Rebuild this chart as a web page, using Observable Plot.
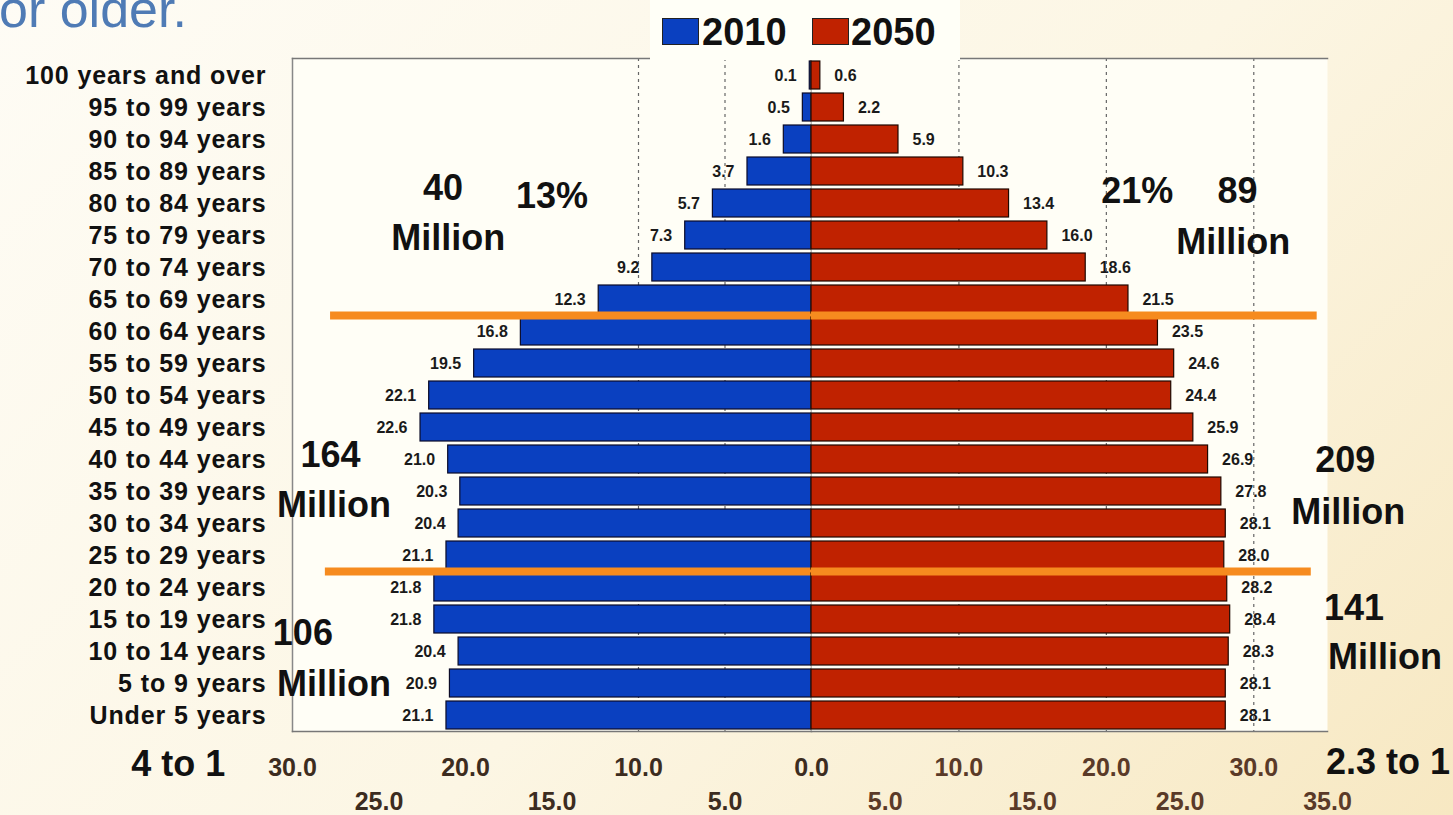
<!DOCTYPE html>
<html>
<head>
<meta charset="utf-8">
<script src="https://cdn.jsdelivr.net/npm/d3@7"></script>
<script src="https://cdn.jsdelivr.net/npm/@observablehq/plot@0.6"></script>
<style>
  html, body { margin: 0; padding: 0; }
  body { width: 1453px; height: 815px; overflow: hidden;
    background: linear-gradient(135deg, #fefcf5 0%, #fcf6e4 55%, #f7e8c2 100%);
    font-family: "Liberation Sans", Arial, sans-serif; }
  #wrap { position: relative; width: 1453px; height: 815px; }
  #title { position: absolute; left: -1px; top: -21px; font-size: 52px; color: #4f7bb5; white-space: nowrap; line-height: 60px; }
  #legend { position: absolute; left: 650px; top: 0; width: 310px; height: 60px; background: #fffff7; }
  .sw { position: absolute; top: 18px; width: 37px; height: 27px; box-sizing: border-box; border: 1px solid #222; }
  .lt { position: absolute; top: 10px; font-size: 38px; font-weight: bold; color: #111; line-height: 44px; }
  #left { position: absolute; left: 0; top: 0; }
  #right { position: absolute; left: 811px; top: 0; }
  svg { overflow: visible; }
  g[aria-label="y-axis tick label"] { letter-spacing: 0.9px; }
  g[aria-label="note"] { letter-spacing: 1.2px; }
</style>
</head>
<body>
<div id="wrap">
  <div id="left"></div>
  <div id="right"></div>
  <div id="title">or older.</div>
  <div id="legend">
    <div class="sw" style="left:12px;background:#0a40c0"></div>
    <div class="lt" style="left:52px">2010</div>
    <div class="sw" style="left:162px;background:#c02200"></div>
    <div class="lt" style="left:201px">2050</div>
  </div>
</div>
<script>
// ---- data ----
const ages = ["100 years and over","95 to 99 years","90 to 94 years","85 to 89 years","80 to 84 years",
  "75 to 79 years","70 to 74 years","65 to 69 years","60 to 64 years","55 to 59 years","50 to 54 years",
  "45 to 49 years","40 to 44 years","35 to 39 years","30 to 34 years","25 to 29 years","20 to 24 years",
  "15 to 19 years","10 to 14 years","5 to 9 years","Under 5 years"];
const pop2010 = [0.1,0.5,1.6,3.7,5.7,7.3,9.2,12.3,16.8,19.5,22.1,22.6,21.0,20.3,20.4,21.1,21.8,21.8,20.4,20.9,21.1];
const pop2050 = [0.6,2.2,5.9,10.3,13.4,16.0,18.6,21.5,23.5,24.6,24.4,25.9,26.9,27.8,28.1,28.0,28.2,28.4,28.3,28.1,28.1];
const leftTicksRow1 = [30,20,10,0];
const leftTicksRow2 = [25,15,5];
const rightTicksRow1 = [10,20,30];
const rightTicksRow2 = [5,15,25,35];
const leftGrid = [5,10];
const rightGrid = [10,20,30];
// orange divider lines: row above which they sit, and their extent (in each side's units)
const dividerRows = ["65 to 69 years","25 to 29 years"];
const dividerLeftExtent = [27.8, 28.1];
const dividerRightExtent = [34.3, 33.9];
// annotations (x in each side's units, anchored to an age row)
const leftNotes = [
  {text:"40", x:21.3, age:"80 to 84 years", dy:-15},
  {text:"Million", x:21.0, age:"75 to 79 years", dy:3},
  {text:"13%", x:15.0, age:"80 to 84 years", dy:-7},
  {text:"164", x:27.8, age:"40 to 44 years", dy:-4},
  {text:"Million", x:27.6, age:"35 to 39 years", dy:14},
  {text:"106", x:29.4, age:"15 to 19 years", dy:14},
  {text:"Million", x:27.6, age:"5 to 9 years", dy:1},
  {text:"4 to 1", x:36.6, age:"Under 5 years", dy:49}
];
const rightNotes = [
  {text:"21%", x:22.1, age:"80 to 84 years", dy:-12},
  {text:"89", x:28.9, age:"80 to 84 years", dy:-12},
  {text:"Million", x:28.6, age:"75 to 79 years", dy:7},
  {text:"209", x:36.2, age:"40 to 44 years", dy:1},
  {text:"Million", x:36.4, age:"35 to 39 years", dy:21},
  {text:"141", x:36.8, age:"15 to 19 years", dy:-11},
  {text:"Million", x:38.9, age:"10 to 14 years", dy:6},
  {text:"2.3 to 1", x:39.1, age:"Under 5 years", dy:47}
];

const rows = ages.map((a, i) => ({age: a, v2010: pop2010[i], v2050: pop2050[i]}));
const dividers = dividerRows.map((a, i) => ({age: a, left: dividerLeftExtent[i], right: dividerRightExtent[i]}));

const BLUE = "#0a40c0", RED = "#c02200", ORANGE = "#f68b1f";
const FONT = "Liberation Sans, Arial, sans-serif";
const yScale = {domain: ages, paddingInner: 0.14, paddingOuter: 0.07, axis: null};
const common = {height: 815, marginTop: 58, marginBottom: 84,
  style: {background: "transparent", fontFamily: FONT, overflow: "visible"}};
const fmt = d => d.toFixed(1);
const noteMarks = notes => notes.map(n => Plot.text([n], {x: "x", y: "age", text: "text", dy: n.dy,
  fontSize: 36, fontWeight: "bold", fill: "#111", ariaLabel: "note"}));

const left = Plot.plot({
  ...common,
  width: 811, marginLeft: 292, marginRight: 0,
  x: {domain: [0, 30], reverse: true, axis: null},
  y: yScale,
  marks: [
    Plot.frame({fill: "#fffef6", stroke: null}),
    Plot.ruleX(leftGrid, {stroke: "#666", strokeDasharray: "3,4", strokeWidth: 1.2}),
    Plot.barX(rows, {x: "v2010", y: "age", fill: BLUE, stroke: "#0b0b28", strokeWidth: 1.2}),
    Plot.ruleX([0], {stroke: "#777", strokeWidth: 1.5}),
    Plot.text(rows, {x: "v2010", y: "age", text: d => fmt(d.v2010), textAnchor: "end", dx: -13,
      fontSize: 16, fontWeight: "bold", fill: "#1a1a1a"}),
    Plot.ruleY(dividers, {y: "age", x1: "left", x2: 0, dy: 16, stroke: ORANGE, strokeWidth: 8}),
    Plot.frame({anchor: "left", stroke: "#888", strokeWidth: 1.5}),
    Plot.frame({anchor: "top", stroke: "#777", strokeWidth: 1.5}),
    Plot.frame({anchor: "bottom", stroke: "#777", strokeWidth: 1.5}),
    Plot.axisY({anchor: "left", tickSize: 0, tickPadding: 26, fontSize: 25, fontWeight: "bold", fill: "#111", label: null}),
    Plot.axisX({ticks: leftTicksRow1, tickFormat: fmt, anchor: "bottom", tickSize: 0, tickPadding: 27,
      fontSize: 25, fontWeight: "bold", fill: "#3c2c20", label: null}),
    Plot.axisX({ticks: leftTicksRow2, tickFormat: fmt, anchor: "bottom", tickSize: 0, tickPadding: 61,
      fontSize: 25, fontWeight: "bold", fill: "#3c2c20", label: null}),
    ...noteMarks(leftNotes)
  ]
});

const right = Plot.plot({
  ...common,
  width: 642, marginLeft: 0, marginRight: 126,
  x: {domain: [0, 35], axis: null},
  y: yScale,
  marks: [
    Plot.frame({fill: "#fffef6", stroke: null}),
    Plot.ruleX(rightGrid, {stroke: "#666", strokeDasharray: "3,4", strokeWidth: 1.2}),
    Plot.barX(rows, {x: "v2050", y: "age", fill: RED, stroke: "#1e0800", strokeWidth: 1.2}),
    Plot.text(rows, {x: "v2050", y: "age", text: d => fmt(d.v2050), textAnchor: "start", dx: 14,
      fontSize: 16, fontWeight: "bold", fill: "#1a1a1a"}),
    Plot.ruleY(dividers, {y: "age", x1: 0, x2: "right", dy: 16, stroke: ORANGE, strokeWidth: 8}),
    Plot.frame({anchor: "top", stroke: "#777", strokeWidth: 1.5}),
    Plot.frame({anchor: "bottom", stroke: "#777", strokeWidth: 1.5}),
    Plot.axisX({ticks: rightTicksRow1, tickFormat: fmt, anchor: "bottom", tickSize: 0, tickPadding: 27,
      fontSize: 25, fontWeight: "bold", fill: "#5a3a28", label: null}),
    Plot.axisX({ticks: rightTicksRow2, tickFormat: fmt, anchor: "bottom", tickSize: 0, tickPadding: 61,
      fontSize: 25, fontWeight: "bold", fill: "#5a3a28", label: null}),
    ...noteMarks(rightNotes)
  ]
});

document.getElementById("left").appendChild(left);
document.getElementById("right").appendChild(right);
</script>
</body>
</html>
